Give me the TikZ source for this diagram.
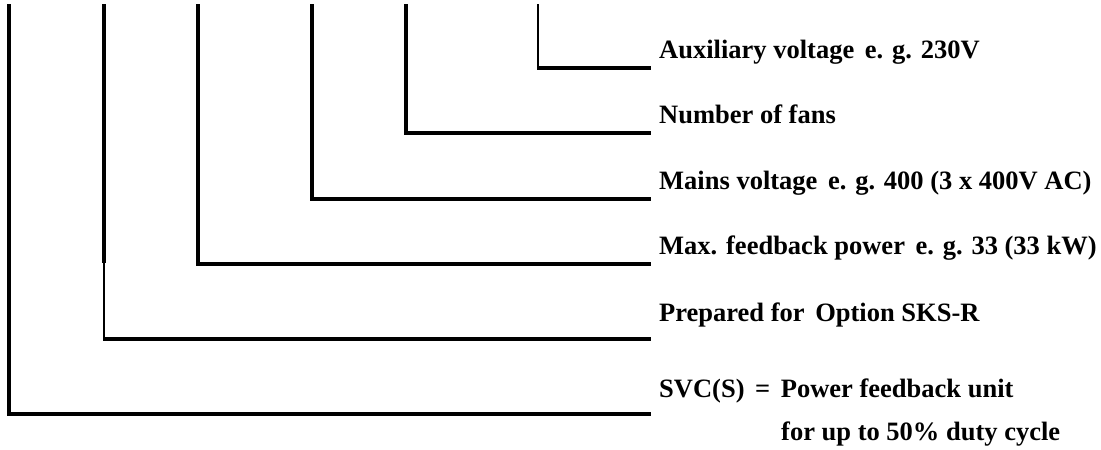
\documentclass[tikz,border=0pt]{standalone}
\usepackage{fontspec}
\setmainfont{Liberation Serif}
\begin{document}
\begin{tikzpicture}[x=1pt,y=-1pt,
  heavy/.style={line width=3.5pt},
  light/.style={line width=1.8pt},
  lbl/.style={anchor=base west, inner sep=0pt, font=\fontsize{26.5}{30}\selectfont\bfseries}]
\newcommand\gapsp{\hspace{0.4em}}
\useasboundingbox (0,0) rectangle (1101,450);
% tops of the vertical lines
\coordinate (t1) at (9,4);
\coordinate (t2) at (104,4);
\coordinate (t3) at (198,4);
\coordinate (t4) at (312,4);
\coordinate (t5) at (406,4);
\coordinate (t6) at (538,4);
% right ends of the horizontal lines
\coordinate (e1) at (651,414);
\coordinate (e2) at (651,339);
\coordinate (e3) at (651,264);
\coordinate (e4) at (651,199);
\coordinate (e5) at (651,133);
\coordinate (e6) at (651,68);
% split point of line 2
\coordinate (s2) at (104,263);
\coordinate (c2) at (104,339);
% labels
\node[lbl] (l6) at (659,58) {Auxiliary voltage\gapsp e. g. 230V};
\node[lbl] (l5) at (659,123) {Number of fans};
\node[lbl] (l4) at (659,189) {Mains voltage\gapsp e. g. 400 (3 x 400V AC)};
\node[lbl] (l3) at (659,254) {Max. feedback power\gapsp e. g. 33 (33 kW)};
\node[lbl] (l2) at (659,321) {Prepared for\gapsp Option SKS-R};
\node[lbl] (l1) at (659,397) {SVC(S)\gapsp =\gapsp Power feedback unit};
\node[lbl] (l1b) at (781,440) {for up to 50\% duty cycle};
% lines
\draw[heavy] (t1) |- (e1);
\draw[heavy] (t2) -- (s2);
\draw[light] (s2) -- (c2);
\draw[heavy] ([xshift=-0.9pt]c2) -- (e2);
\draw[heavy] (t3) |- (e3);
\draw[heavy] (t4) |- (e4);
\draw[heavy] (t5) |- (e5);
\draw[light] (t6) |- (e6);
\draw[heavy] ([xshift=-0.9pt]t6 |- e6) -- (e6);
\end{tikzpicture}
\end{document}
